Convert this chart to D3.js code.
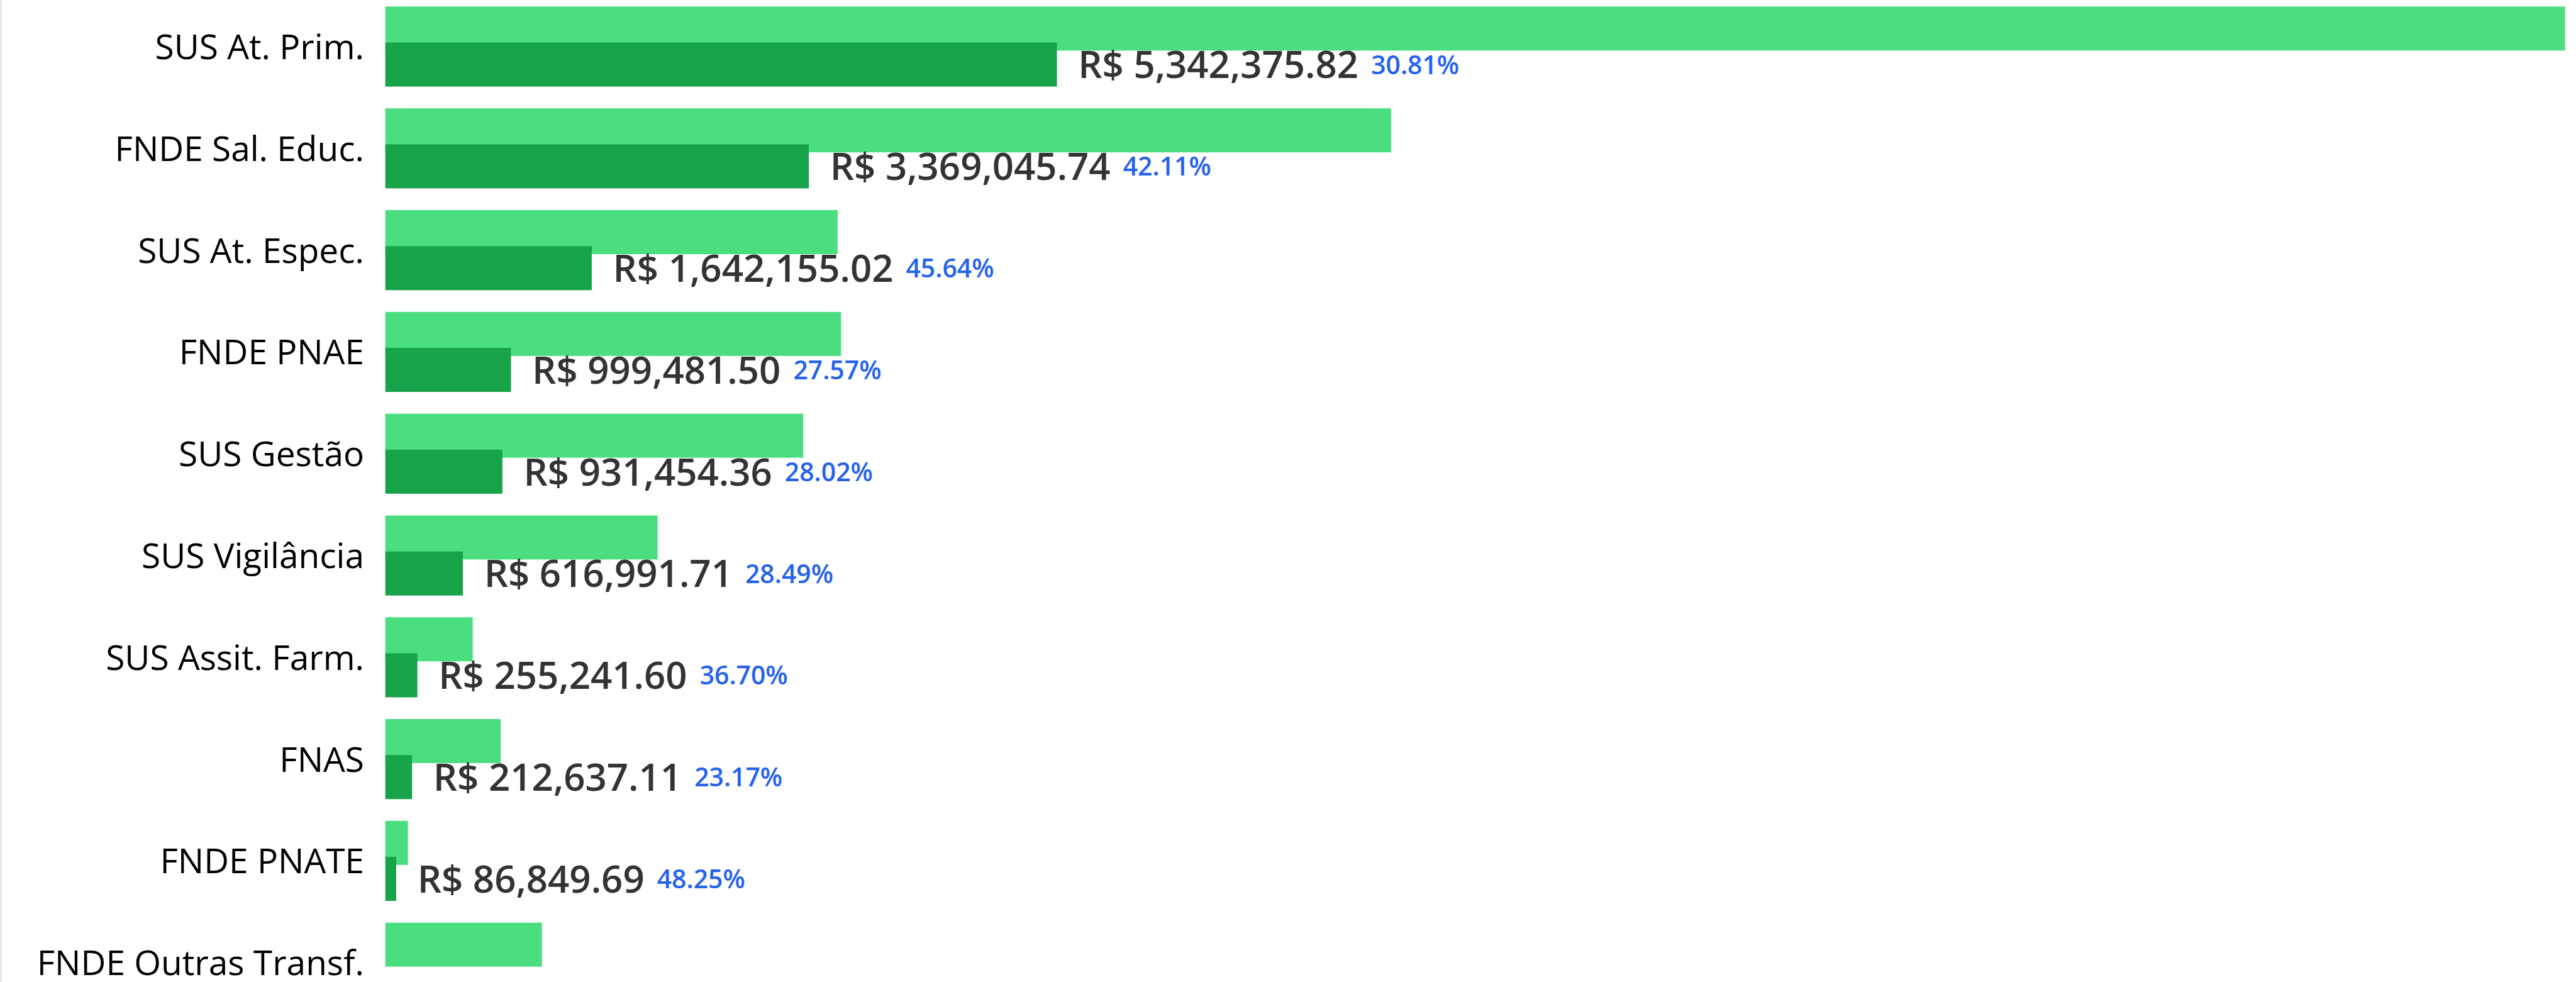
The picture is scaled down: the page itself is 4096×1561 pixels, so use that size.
<!DOCTYPE html>
<html>
  <head>
    <meta charset="UTF-8">
    <script src="https://d3js.org/d3.v7.min.js"></script>
    <style>
        html, body {
            margin: 0;
            padding: 0;
            background: #fff;
            overflow: hidden;
        }
        svg {
            display: block;
        }
        .catLabel {
            font-family: 'Open Sans', sans-serif;
            font-size: 60.5px;
            fill: #000;
        }
        .valueLabel {
            font-family: 'Open Sans', sans-serif;
            font-weight: 600;
            font-size: 66px;
            fill: #333;
        }
        .pctLabel {
            font-family: 'Open Sans', sans-serif;
            font-weight: 600;
            font-size: 45px;
            fill: #2563eb;
        }
    </style>
  </head>
  <body>
    <script>
        // categories (top to bottom)
        const categories = ['SUS At. Prim.', 'FNDE Sal. Educ.', 'SUS At. Espec.', 'FNDE PNAE', 'SUS Gestão',
            'SUS Vigilância', 'SUS Assit. Farm.', 'FNAS', 'FNDE PNATE', 'FNDE Outras Transf.']
        // executed amounts (dark bars)
        const executed = [5342375.82, 3369045.74, 1642155.02, 999481.50, 931454.36,
            616991.71, 255241.60, 212637.11, 86849.69, 0]
        // budget amounts (light bars)
        const budget = [17339746, 8000583, 3598061, 3625250, 3324248,
            2165643, 695481, 917726, 180000, 1246000]
        // percent labels
        const percents = [30.81, 42.11, 45.64, 27.57, 28.02, 28.49, 36.70, 23.17, 48.25, 0]

        // drawn in reference units, scaled down by the viewBox
        let refWidth = 4506, refHeight = 1717

        let svg = d3.select('body')
            .append('svg')
            .attr('width', 4096)
            .attr('height', 1561)
            .attr('viewBox', `0 0 ${refWidth} ${refHeight}`)

        svg.append('rect')
            .attr('x', 0).attr('y', 0)
            .attr('width', 3).attr('height', refHeight)
            .attr('fill', '#e5e7eb')

        let x = d3.scaleLinear()
            .domain([0, d3.max(budget)])
            .range([674, 4487])

        let y = d3.scaleBand()
            .domain(categories)
            .range([-7.7, 1772.3])
            .paddingInner(0.2135)
            .paddingOuter(0.1067)

        let bw = y.bandwidth()
        let barH = bw * 0.55
        let darkOffset = bw * 0.45

        let rows = svg.selectAll('.row')
            .data(categories)
            .enter()
            .append('g')
            .attr('class', 'row')

        rows.append('rect')
            .attr('x', x(0))
            .attr('y', d => y(d))
            .attr('width', (d, i) => x(budget[i]) - x(0))
            .attr('height', barH)
            .attr('fill', '#4ade80')

        rows.append('rect')
            .attr('x', x(0))
            .attr('y', d => y(d) + darkOffset)
            .attr('width', (d, i) => x(executed[i]) - x(0))
            .attr('height', barH)
            .attr('fill', '#16a34a')

        // category labels
        svg.selectAll('.catLabel')
            .data(categories)
            .enter()
            .append('text')
            .attr('class', 'catLabel')
            .attr('text-anchor', 'end')
            .attr('x', x(0) - 37)
            .attr('y', d => y(d) + bw / 2 + 22)
            .text(d => d)

        let fmt = d3.format(',.2f')
        let shown = categories.filter((d, i) => executed[i] > 0)

        let labels = svg.selectAll('.valueGroup')
            .data(shown)
            .enter()
            .append('g')
            .attr('class', 'valueGroup')

        labels.append('text')
            .attr('class', 'valueLabel')
            .attr('x', d => x(executed[categories.indexOf(d)]) + 37)
            .attr('y', d => y(d) + darkOffset + barH / 2 + 24)
            .text(d => 'R$ ' + fmt(executed[categories.indexOf(d)]))

        labels.each(function (d) {
            let g = d3.select(this)
            let t = g.select('text')
            let end = +t.attr('x') + t.node().getComputedTextLength()
            g.append('text')
                .attr('class', 'pctLabel')
                .attr('x', end + 22)
                .attr('y', y(d) + darkOffset + barH / 2 + 16.5)
                .text(percents[categories.indexOf(d)].toFixed(2) + '%')
        })
    </script>
  </body>
</html>
